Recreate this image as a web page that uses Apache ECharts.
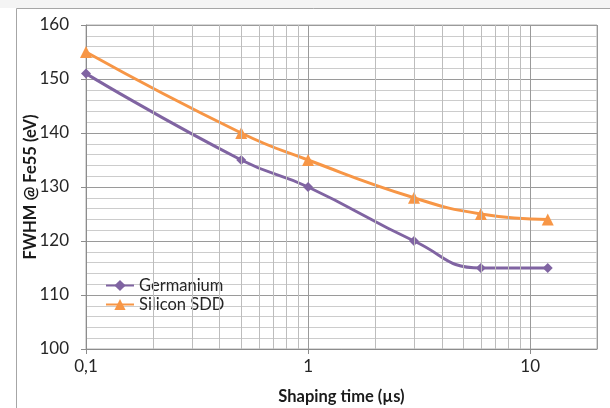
<!DOCTYPE html>
<html>
<head>
<meta charset="utf-8">
<script src="https://cdn.jsdelivr.net/npm/echarts@6/dist/echarts.min.js"></script>
<style>
  html, body { margin: 0; padding: 0; background: #ffffff; }
  #chart { width: 610px; height: 408px; }
</style>
</head>
<body>
<div id="chart"></div>
<script>
// Shaping time (µs) for each measurement
const shapingTimes = [0.1, 0.5, 1, 3, 6, 12];
// FWHM at Fe55 (eV)
const germanium = [151, 135, 130, 120, 115, 115];
const siliconSDD = [155, 140, 135, 128, 125, 124];
// Minor vertical gridline positions on the log axis
const minorGridX = [0.2, 0.3, 0.4, 0.5, 0.6, 0.7, 0.8, 0.9, 2, 3, 4, 5, 6, 7, 8, 9];

const FONT = 'Lato, "Liberation Sans", sans-serif';
const TEXT = '#262626';

const chart = echarts.init(document.getElementById('chart'), null, { renderer: 'canvas' });

const pair = (xs, ys) => xs.map((x, i) => [x, ys[i]]);

chart.setOption({
  animation: false,
  backgroundColor: '#ffffff',
  graphic: [
    { type: 'rect', shape: { x: 0, y: 0, width: 610, height: 8 }, style: { fill: '#f4f4f4' }, z: -10 },
    { type: 'rect', shape: { x: 16.5, y: 8.5, width: 620, height: 420 },
      style: { fill: 'none', stroke: '#a6a6a6', lineWidth: 1 }, z: -9 }
  ],
  grid: {
    left: 86, right: 13, top: 25, bottom: 59,
    outerBoundsMode: 'none', containLabel: false,
    show: true, borderColor: '#b0b0b0', borderWidth: 1, backgroundColor: 'transparent'
  },
  xAxis: {
    type: 'log', logBase: 10, min: 0.1, max: 20, interval: 1,
    name: 'Shaping time (µs)', nameLocation: 'middle', nameGap: 39, nameMoveOverlap: false,
    nameTextStyle: { fontFamily: FONT, fontSize: 16.5, fontWeight: 'bold', color: '#1a1a1a' },
    axisLine: { show: true, lineStyle: { color: '#8c8c8c', width: 1 } },
    axisTick: { show: true, length: 5, lineStyle: { color: '#8c8c8c' } },
    axisLabel: {
      fontFamily: FONT, fontSize: 17, color: TEXT, margin: 9, showMaxLabel: false,
      formatter: v => {
        const l = Math.log10(v);
        if (Math.abs(l - Math.round(l)) > 1e-6) return '';
        return String(v).replace('.', ',');
      }
    },
    splitLine: { show: true, lineStyle: { color: '#9a9a9a', width: 1 } }
  },
  yAxis: {
    type: 'value', min: 100, max: 160, interval: 10,
    name: 'FWHM @ Fe55 (eV)', nameLocation: 'middle', nameGap: 47, nameRotate: 90, nameMoveOverlap: false,
    nameTextStyle: { fontFamily: FONT, fontSize: 16.5, fontWeight: 'bold', color: '#1a1a1a' },
    axisLine: { show: true, lineStyle: { color: '#8c8c8c', width: 1 } },
    axisTick: { show: true, length: 5, lineStyle: { color: '#8c8c8c' } },
    axisLabel: { fontFamily: FONT, fontSize: 17, color: TEXT, margin: 17 },
    splitLine: { show: true, lineStyle: { color: '#9a9a9a', width: 1 } },
    minorTick: { show: false, splitNumber: 5 },
    minorSplitLine: { show: true, lineStyle: { color: '#cccccc', width: 1 } }
  },
  legend: {
    left: 100, top: 272, orient: 'vertical', itemWidth: 28, itemHeight: 14, itemGap: 2,
    textStyle: { fontFamily: FONT, fontSize: 16.5, color: TEXT },
    data: ['Germanium', 'Silicon SDD']
  },
  series: [
    {
      name: 'minor-grid', type: 'line', data: [], silent: true, z: 1,
      markLine: {
        silent: true, symbol: 'none', animation: false,
        label: { show: false },
        lineStyle: { color: '#bdbdbd', width: 1, type: 'solid' },
        data: minorGridX.map(v => ({ xAxis: v }))
      }
    },
    {
      name: 'Germanium', type: 'line', z: 3,
      data: pair(shapingTimes, germanium),
      smooth: 0.5,
      symbol: 'diamond', symbolSize: 10,
      lineStyle: { color: '#8064a2', width: 3 },
      itemStyle: { color: '#8064a2' }
    },
    {
      name: 'Silicon SDD', type: 'line', z: 3,
      data: pair(shapingTimes, siliconSDD),
      smooth: 0.5,
      symbol: 'triangle', symbolSize: 12,
      lineStyle: { color: '#f79646', width: 3 },
      itemStyle: { color: '#f79646' }
    }
  ]
});
</script>
</body>
</html>
